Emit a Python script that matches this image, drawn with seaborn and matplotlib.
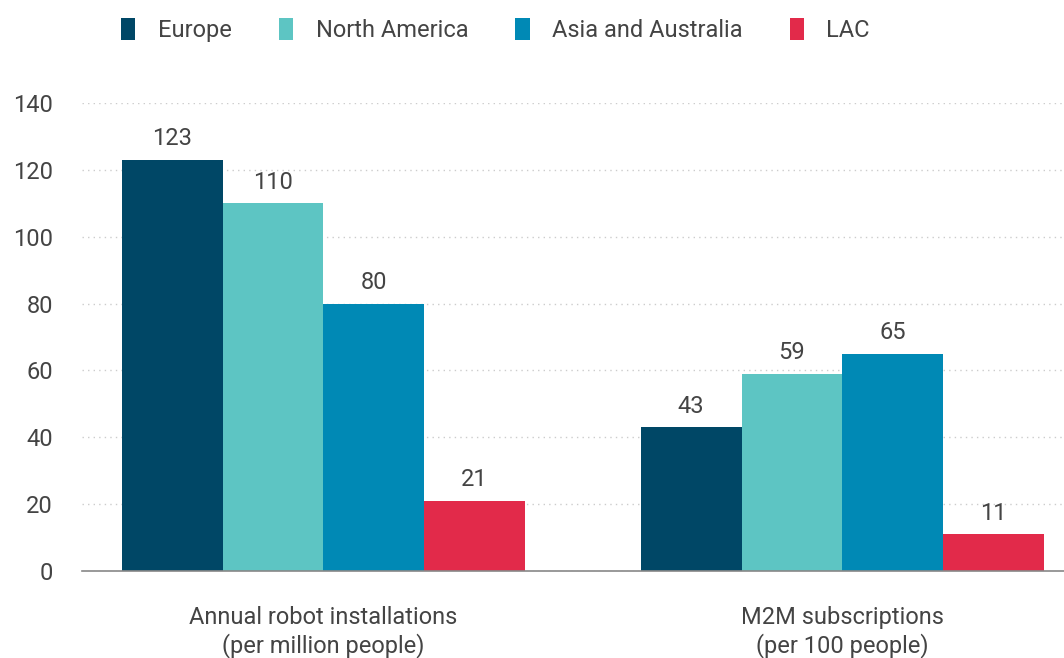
import matplotlib
matplotlib.use("Agg")
import matplotlib.pyplot as plt
import seaborn as sns
import pandas as pd
from matplotlib.patches import Patch

# Indicators, regions and values
indicators = ["Annual robot installations\n(per million people)",
              "M2M subscriptions\n(per 100 people)"]
regions = ["Europe", "North America", "Asia and Australia", "LAC"]
europe = [123, 43]
north_america = [110, 59]
asia_australia = [80, 65]
lac = [21, 11]
yticks = [0, 20, 40, 60, 80, 100, 120, 140]

colors = ["#004766", "#5dc5c3", "#0089b5", "#e22a4a"]
text_color = "#444444"

rows = []
for region, vals in zip(regions, [europe, north_america, asia_australia, lac]):
    for ind, v in zip(indicators, vals):
        rows.append({"indicator": ind, "region": region, "value": v})
df = pd.DataFrame(rows)

sns.set_theme(style="white")
plt.rcParams["font.family"] = ["Roboto", "DejaVu Sans"]
fs = 17

fig = plt.figure(figsize=(10.64, 6.58), dpi=100)
ax = fig.add_axes([82 / 1064, 87 / 658, 1 - 82 / 1064, 468 / 658])

sns.barplot(data=df, x="indicator", y="value", hue="region",
            hue_order=regions, order=indicators, palette=colors,
            width=0.777, gap=0, linewidth=0, saturation=1,
            errorbar=None, legend=False, ax=ax)

for container in ax.containers:
    ax.bar_label(container, fmt="%d", padding=7, fontsize=fs,
                 color=text_color)

ax.set_ylim(0, 140)
ax.set_xlim(-0.465, 1.427)
ax.set_yticks(yticks)
ax.yaxis.grid(True, linestyle=(0, (1, 3)), color="#cccccc", linewidth=1)
ax.set_axisbelow(True)
ax.tick_params(axis="y", length=0, pad=21, labelsize=fs,
               labelcolor=text_color)
ax.tick_params(axis="x", length=0, pad=25, labelsize=fs,
               labelcolor=text_color)
ax.set_xlabel("")
ax.set_ylabel("")
for side in ["left", "right", "top"]:
    ax.spines[side].set_visible(False)
ax.spines["bottom"].set_color("#888888")
ax.spines["bottom"].set_linewidth(1.2)

handles = [Patch(facecolor=c, edgecolor="none") for c in colors]
fig.legend(handles, regions, loc="upper left",
           bbox_to_anchor=(100 / 1064, 1 + 3 / 658),
           ncol=4, frameon=False, fontsize=fs, labelcolor=text_color,
           handlelength=0.6, handleheight=1.05, handletextpad=0.95,
           columnspacing=2.0)

fig.savefig("out.png", dpi=100)
